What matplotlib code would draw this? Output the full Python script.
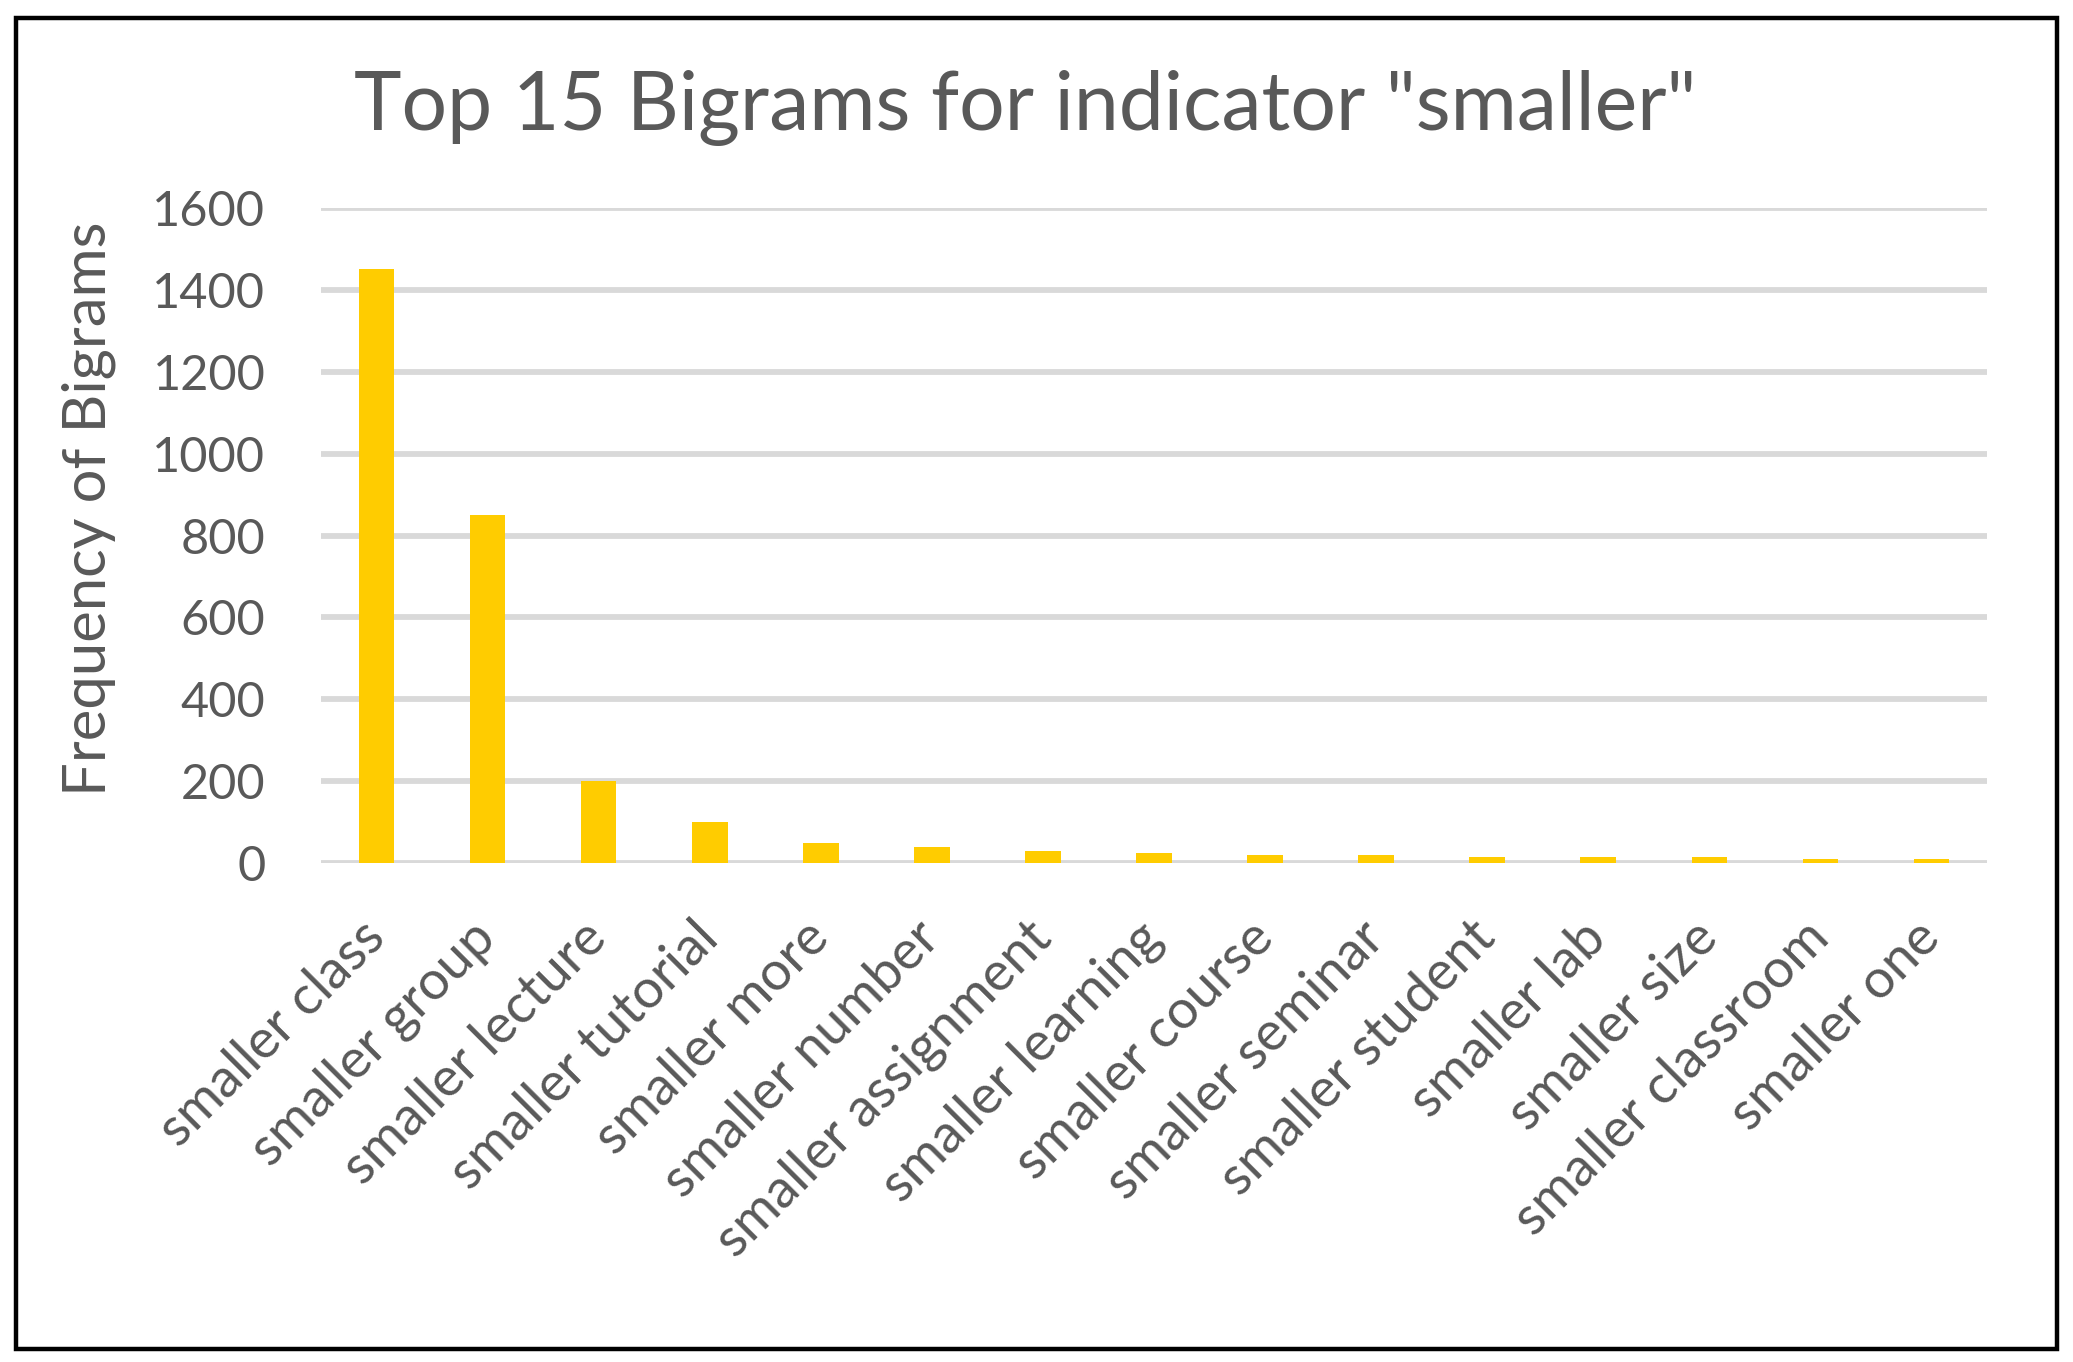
import matplotlib
matplotlib.use("Agg")
import matplotlib.pyplot as plt
import matplotlib.patches as mpatches
import numpy as np

# ── data ─────────────────────────────────────────────────────────────────────
bigrams = ["smaller class", "smaller group", "smaller lecture", "smaller tutorial",
           "smaller more", "smaller number", "smaller assignment", "smaller learning",
           "smaller course", "smaller seminar", "smaller student", "smaller lab",
           "smaller size", "smaller classroom", "smaller one"]
freq = [1450, 850, 200, 100, 50, 40, 30, 25, 20, 20, 15, 15, 15, 10, 10]
yticks = [0, 200, 400, 600, 800, 1000, 1200, 1400, 1600]

# ── style ─────────────────────────────────────────────────────────────────────
FONT = ["Lato", "DejaVu Sans"]
TXT = "#595959"
GRID = "#D9D9D9"
BAR = "#FFCC00"
W, H = 2073, 1362

fig = plt.figure(figsize=(W / 100, H / 100), dpi=100, facecolor="white")
ax = fig.add_axes([321 / W, 1 - 863 / H, (1987 - 321) / W, (863 - 208) / H])

xs = np.arange(len(bigrams))
ax.bar(xs, freq, width=0.32, color=BAR, zorder=3)

ax.set_xlim(-0.5, len(bigrams) - 0.5)
ax.set_ylim(0, 1600)
ax.set_yticks(yticks)
ax.set_yticklabels([str(v) for v in yticks], family=FONT, fontsize=35, color=TXT)
ax.set_xticks(xs)
ax.set_xticklabels(bigrams, family=FONT, fontsize=39, color=TXT,
                   rotation=45, ha="right", va="center", rotation_mode="anchor")
ax.tick_params(axis="both", length=0)
ax.tick_params(axis="y", pad=40)
ax.tick_params(axis="x", pad=48)
for s in ax.spines.values():
    s.set_visible(False)
ax.yaxis.grid(True, color=GRID, linewidth=4.2, zorder=0)
ax.set_axisbelow(True)

fig.text(1025 / W, 1 - 108 / H, 'Top 15 Bigrams for indicator "smaller"',
         family=FONT, fontsize=58, color=TXT, ha="center", va="center")
fig.text(89 / W, 1 - 509 / H, "Frequency of Bigrams", family=FONT, fontsize=43,
         color=TXT, rotation=90, ha="center", va="center")

# black frame round the whole chart
fig.patches.append(mpatches.Rectangle((16 / W, 1 - 1349 / H), (2057 - 16) / W,
                                      (1349 - 18) / H, transform=fig.transFigure,
                                      fill=False, edgecolor="black", linewidth=3.2))

fig.savefig("out.png", dpi=100, facecolor="white")
